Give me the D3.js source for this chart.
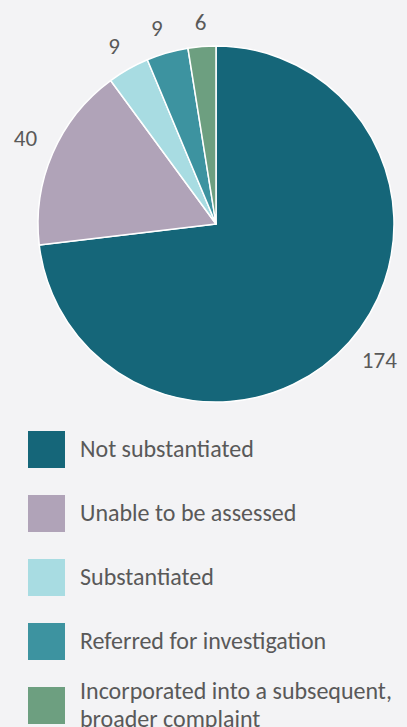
<!DOCTYPE html>
<html>
<head>
<meta charset="utf-8">
<script src="https://cdn.jsdelivr.net/npm/d3@7"></script>
<style>
  html, body { margin: 0; padding: 0; background: #f3f3f5; }
  svg { display: block; }
  text { font-family: Carlito, Calibri, "Open Sans", sans-serif; fill: #595959; }
</style>
</head>
<body>
<svg id="chart" width="407" height="727"></svg>
<script>
// Complaint outcomes
const categories = [
  "Not substantiated",
  "Unable to be assessed",
  "Substantiated",
  "Referred for investigation",
  "Incorporated into a subsequent, broader complaint"
];
const values = [174, 40, 9, 9, 6];
const colors = ["#156679", "#b0a3b8", "#a8dce2", "#3d93a0", "#6d9f80"];
// Legend text, wrapped onto lines
const legendLines = [
  ["Not substantiated"],
  ["Unable to be assessed"],
  ["Substantiated"],
  ["Referred for investigation"],
  ["Incorporated into a subsequent,", "broader complaint"]
];

const svg = d3.select("#chart");
const cx = 216, cy = 224, radius = 178, labelRadius = 195;
const labelSize = 23, legendSize = 24;

const data = categories.map((c, i) => ({ category: c, value: values[i], color: colors[i] }));

const pie = d3.pie().sort(null).value(d => d.value);
const arc = d3.arc().innerRadius(0).outerRadius(radius);
const arcs = pie(data);

const g = svg.append("g").attr("transform", `translate(${cx},${cy})`);

g.selectAll("path.slice")
  .data(arcs)
  .join("path")
  .attr("class", "slice")
  .attr("d", arc)
  .attr("fill", d => d.data.color)
  .attr("stroke", "#ffffff")
  .attr("stroke-width", 1.5)
  .attr("stroke-linejoin", "round");

// Value labels placed just outside the rim: each label's box touches a circle of labelRadius
const labels = g.selectAll("text.value")
  .data(arcs)
  .join("text")
  .attr("class", "value")
  .attr("font-size", labelSize)
  .attr("text-anchor", "middle")
  .text(d => d.data.value);

labels.each(function(d) {
  const a = (d.startAngle + d.endAngle) / 2;
  const w = this.getComputedTextLength();
  const h = labelSize * 0.63;
  const px = labelRadius * Math.sin(a);
  const py = -labelRadius * Math.cos(a);
  const s = Math.abs(Math.sin(a)) < 0.2 ? 0 : Math.sign(Math.sin(a));
  const ox = (w / 2) * s;
  const oy = -(h / 2) * Math.sign(Math.cos(a));
  d3.select(this)
    .attr("x", px + ox)
    .attr("y", py + oy + h / 2);
});

// Legend
const legend = svg.append("g").attr("transform", "translate(28,431)");
const rowStep = 64, box = 37;
const rows = legend.selectAll("g.row")
  .data(data)
  .join("g")
  .attr("class", "row")
  .attr("transform", (d, i) => `translate(0,${i * rowStep})`);

rows.append("rect")
  .attr("width", box)
  .attr("height", box)
  .attr("fill", d => d.color);

rows.append("text")
  .attr("x", 52)
  .attr("font-size", legendSize)
  .each(function(d, i) {
    const lines = legendLines[i];
    const t = d3.select(this);
    const lh = 28;
    const y0 = box / 2 - (lines.length - 1) * lh / 2;
    lines.forEach((ln, k) => {
      t.append("tspan")
        .attr("x", 52)
        .attr("y", y0 + k * lh)
        .attr("dy", "0.3em")
        .text(ln);
    });
  });
</script>
</body>
</html>
